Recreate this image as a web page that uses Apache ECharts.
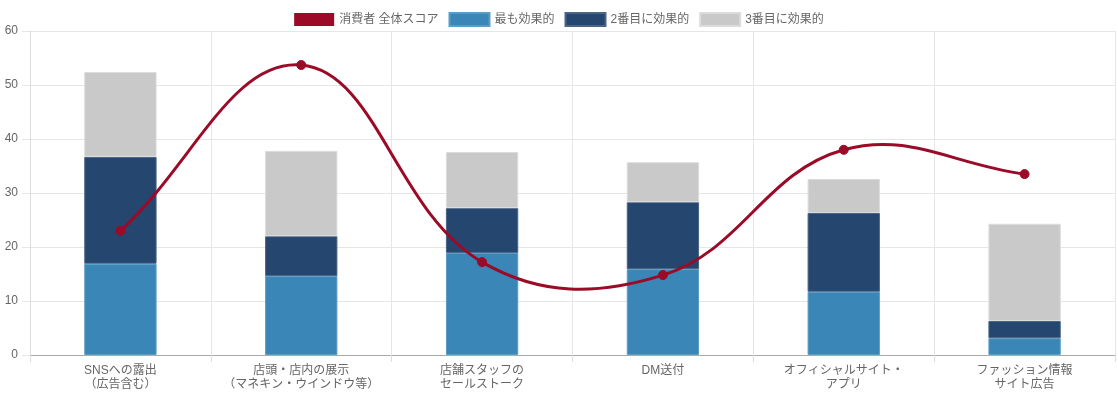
<!DOCTYPE html>
<html><head><meta charset="utf-8">
<script src="https://cdn.jsdelivr.net/npm/echarts@6/dist/echarts.min.js"></script>
<style>html,body{margin:0;padding:0;background:#fff}#c{width:1118px;height:400px}</style>
</head><body><div id="c"></div>
<script>
const categories = ["SNSへの露出\n（広告含む）", "店頭・店内の展示\n（マネキン・ウインドウ等）", "店舗スタッフの\nセールストーク", "DM送付", "オフィシャルサイト・\nアプリ", "ファッション情報\nサイト広告"];
const seriesNames = ["消費者 全体スコア", "最も効果的", "2番目に効果的", "3番目に効果的"];
const overallScore = [23.0, 53.7, 17.2, 14.8, 38.0, 33.5];
const mostEffective = [16.9, 14.6, 18.9, 15.9, 11.7, 3.1];
const secondEffective = [19.8, 7.4, 8.3, 12.4, 14.6, 3.2];
const thirdEffective = [15.7, 15.8, 10.4, 7.4, 6.3, 18.0];

const FONT = "'Liberation Sans', 'Noto Sans CJK JP', sans-serif";
const LINE_COLOR = '#9B0A27';
const TENSION = 0.4;

// Tension-based cubic bezier spline through the points
function splinePath(pts) {
  let d = 'M' + pts[0][0] + ',' + pts[0][1];
  const cps = pts.map((p, i) => {
    const p0 = pts[i - 1] || p, p2 = pts[i + 1] || p;
    const d01 = Math.hypot(p[0] - p0[0], p[1] - p0[1]);
    const d12 = Math.hypot(p2[0] - p[0], p2[1] - p[1]);
    let s01 = d01 / (d01 + d12), s12 = d12 / (d01 + d12);
    if (!isFinite(s01)) s01 = 0; if (!isFinite(s12)) s12 = 0;
    const fa = TENSION * s01, fb = TENSION * s12;
    return {
      prev: [p[0] - fa * (p2[0] - p0[0]), p[1] - fa * (p2[1] - p0[1])],
      next: [p[0] + fb * (p2[0] - p0[0]), p[1] + fb * (p2[1] - p0[1])]
    };
  });
  for (let i = 1; i < pts.length; i++) {
    const c1 = cps[i - 1].next, c2 = cps[i].prev, p = pts[i];
    d += ' C' + c1[0] + ',' + c1[1] + ' ' + c2[0] + ',' + c2[1] + ' ' + p[0] + ',' + p[1];
  }
  return d;
}

const chart = echarts.init(document.getElementById('c'));
const barCommon = {type: 'bar', stack: 'total', barWidth: '40%'};
chart.setOption({
  animation: false,
  textStyle: {fontFamily: FONT},
  legend: {
    top: 7, left: 'center', itemWidth: 40, itemHeight: 13, itemGap: 10,
    textStyle: {fontFamily: FONT, fontSize: 12, color: '#666'},
    icon: 'rect',
    data: seriesNames
  },
  grid: {left: 30, right: 3, top: 31, bottom: 45, containLabel: false},
  xAxis: {
    type: 'category', data: categories, boundaryGap: true,
    axisLine: {lineStyle: {color: '#aaa'}},
    axisTick: {show: true, length: 7, lineStyle: {color: '#ddd'}},
    splitLine: {show: true, lineStyle: {color: '#e6e6e6'}},
    axisLabel: {color: '#666', fontSize: 12, lineHeight: 14, margin: 9, fontFamily: FONT, interval: 0}
  },
  yAxis: {
    type: 'value', min: 0, max: 60, interval: 10,
    axisLine: {show: true, lineStyle: {color: '#ddd'}},
    axisTick: {show: true, length: 8, lineStyle: {color: '#e6e6e6'}},
    splitLine: {lineStyle: {color: '#e6e6e6'}},
    axisLabel: {color: '#666', fontSize: 12, margin: 12, fontFamily: FONT}
  },
  series: [
    {name: seriesNames[0], type: 'line', data: overallScore, z: 11,
     symbol: 'circle', symbolSize: 9,
     lineStyle: {color: LINE_COLOR, width: 3, opacity: 0},
     itemStyle: {color: LINE_COLOR, borderColor: LINE_COLOR}},
    {type: 'custom', data: overallScore, z: 10, silent: true,
     renderItem: function (params, api) {
       if (params.dataIndex !== 0) return null;
       const pts = overallScore.map((v, i) => api.coord([i, v]));
       return {type: 'path', shape: {pathData: splinePath(pts)},
               style: {fill: null, stroke: LINE_COLOR, lineWidth: 3}};
     }},
    Object.assign({}, barCommon, {name: seriesNames[1], data: mostEffective,
     itemStyle: {color: '#3A87B7', borderColor: '#5b9cc4', borderWidth: 1}}),
    Object.assign({}, barCommon, {name: seriesNames[2], data: secondEffective,
     itemStyle: {color: '#25466E', borderColor: '#4a6586', borderWidth: 1}}),
    Object.assign({}, barCommon, {name: seriesNames[3], data: thirdEffective,
     itemStyle: {color: '#C9C9C9', borderColor: '#dcdcdc', borderWidth: 1}})
  ]
});
</script></body></html>
